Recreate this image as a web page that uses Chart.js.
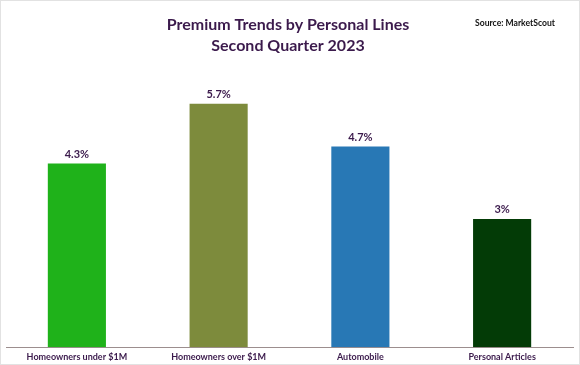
<!DOCTYPE html>
<html><head><meta charset="utf-8">
<script src="https://cdn.jsdelivr.net/npm/chart.js@4"></script>
<style>
html,body{margin:0;padding:0;background:#fff;}
#wrap{position:absolute;left:0;top:0;width:578px;height:363px;border:1px solid #e2e2e2;}
canvas{display:block;}
</style></head><body>
<div id="wrap"><canvas id="c" width="578" height="363"></canvas></div>
<script>
const categories = ["Homeowners under $1M", "Homeowners over $1M", "Automobile", "Personal Articles"];
const values = [4.3, 5.7, 4.7, 3];
const valueLabels = ["4.3%", "5.7%", "4.7%", "3%"];
const barColors = ["#1fb21a", "#7d8b3c", "#2878b5", "#033b06"];
const titleLines = ["Premium Trends by Personal Lines", "Second Quarter 2023"];
const sourceText = "Source: MarketScout";

const FONT = "Lato, 'Open Sans', sans-serif";
const PURPLE = "#3b1a4c";

const overlay = {
  id: 'overlay',
  afterDatasetsDraw(chart) {
    const ctx = chart.ctx;
    const meta = chart.getDatasetMeta(0);
    ctx.save();
    ctx.fillStyle = PURPLE;
    ctx.font = "bold 11px " + FONT;
    ctx.textAlign = "center";
    ctx.textBaseline = "bottom";
    meta.data.forEach((bar, i) => {
      ctx.fillText(valueLabels[i], bar.x, bar.y - 4);
    });
    ctx.font = "bold 16px " + FONT;
    ctx.textBaseline = "middle";
    ctx.fillText(titleLines[0], 287, 24);
    ctx.fillText(titleLines[1], 287, 45);
    ctx.fillStyle = "#111";
    ctx.font = "bold 8.6px " + FONT;
    ctx.textAlign = "left";
    ctx.fillText(sourceText, 474, 22);
    ctx.restore();
  }
};

new Chart(document.getElementById('c'), {
  type: 'bar',
  data: {
    labels: categories,
    datasets: [{ data: values, backgroundColor: barColors, borderWidth: 0,
      barPercentage: 0.41, categoryPercentage: 1.0 }]
  },
  options: {
    responsive: false,
    animation: false,
    layout: { padding: { top: 90, left: 5, right: 6, bottom: -2 } },
    plugins: { legend: { display: false }, tooltip: { enabled: false }, title: { display: false } },
    scales: {
      y: { display: false, min: 0, max: 6 },
      x: {
        grid: { display: false, drawTicks: false },
        border: { display: true, color: "#9c8e8e", width: 1 },
        ticks: { color: PURPLE, font: { family: FONT, weight: 'bold', size: 9 }, padding: 4, maxRotation: 0 }
      }
    }
  },
  plugins: [overlay]
});
</script>
</body></html>
